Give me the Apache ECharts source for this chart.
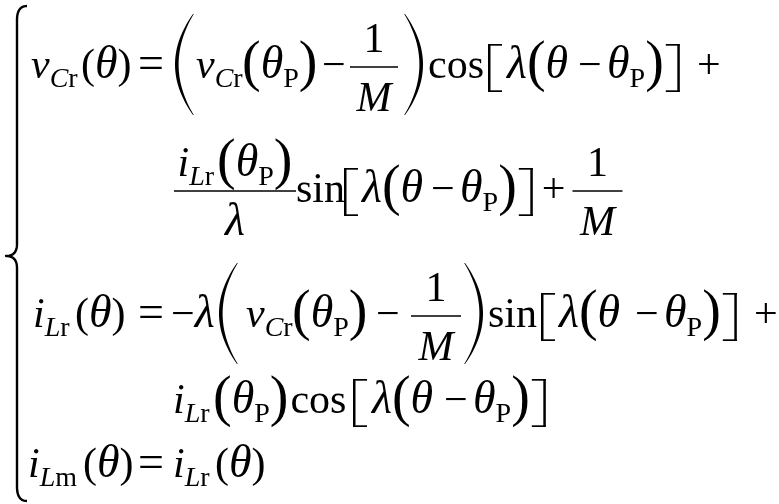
<!DOCTYPE html>
<html><head><meta charset="utf-8">
<script src="https://cdn.jsdelivr.net/npm/echarts@6/dist/echarts.min.js"></script>
<style>html,body{margin:0;padding:0;background:#fff}#c{width:779px;height:504px}</style>
</head><body><div id="c"></div>
<script>
// ---- text pieces of the system of equations ----
const vCr    = [['i','v'], ['s', [['i','C'], ['n','r']]]];
const iLr    = [['i','i'], ['s', [['i','L'], ['n','r']]]];
const iLm    = [['i','i'], ['s', [['i','L'], ['n','m']]]];
const thP    = [['g','θ'], ['s', [['n','P']]]];
const argTh  = [['n','('], ['g','θ'], ['n',')']];
const parThP = [['mp','('], ...thP, ['mp',')']];
const oneOverM = [['n','1']];
const denM     = [['i','M']];
const denLam   = [['g','λ']];

// ---- typography ----
const FAMILY = 'Liberation Serif';
const S = 42, GS = 46, OS = 46, SUB = 28, SUBDY = 9, MIDP = 56, MIDDY = 2;
const cv = document.createElement('canvas').getContext('2d');
function fontStr(size, it){ return (it ? 'italic ' : '') + size + 'px "' + FAMILY + '"'; }
function tw(s, size, it){ cv.font = fontStr(size, it); return cv.measureText(s).width; }
const offCache = {};
function midOff(size){
  if (offCache[size] == null) {
    cv.font = fontStr(size, false); cv.textBaseline = 'middle';
    const m = cv.measureText('x');
    let d = m.actualBoundingBoxDescent;
    if (!(d > 0)) d = 0.32 * size;
    cv.textBaseline = 'alphabetic';
    offCache[size] = d;
  }
  return offCache[size];
}
const els = [];
function txt(x, b, s, size, it){
  els.push({type:'text', x:x, y:b - midOff(size), silent:true,
    style:{text:s, fontFamily:FAMILY, fontSize:size, fontStyle:it ? 'italic' : 'normal', fill:'#000',
      align:'left', verticalAlign:'middle'}});
}
function paren(x, top, bot, w, left){
  const n = 40, t = 2.8, outer = [], inner = [];
  for (let k = 0; k <= n; k++) {
    const s = k / n, u = 2 * s - 1;
    const xo = w * u * u;
    const xi = xo + t * (1 - u * u) + 0.8;
    const y = top + s * (bot - top);
    outer.push([left ? x + xo : x + w - xo, y]);
    inner.push([left ? x + xi : x + w - xi, y]);
  }
  els.push({type:'polygon', silent:true, shape:{points: outer.concat(inner.reverse())}, style:{fill:'#000'}});
}
function bracket(x, top, bot, w, left){
  const vx = left ? x : x + w - 2.5;
  els.push({type:'rect', silent:true, shape:{x:vx, y:top, width:2.5, height:bot-top}, style:{fill:'#000'}});
  els.push({type:'rect', silent:true, shape:{x:x, y:top, width:w, height:1.7}, style:{fill:'#000'}});
  els.push({type:'rect', silent:true, shape:{x:x, y:bot-1.7, width:w, height:1.7}, style:{fill:'#000'}});
}
const BAR = 11, NUM = 15, DEN = 44;
function flow(x, b, items, draw){
  for (const it of items) {
    const k = it[0];
    if (k === 'i' || k === 'n') {
      if (draw) txt(x, b, it[1], S, k === 'i');
      x += tw(it[1], S, k === 'i');
    } else if (k === 'o') {
      if (draw) txt(x, b, it[1], OS, false);
      x += tw(it[1], OS, false);
    } else if (k === 'g') {
      if (typeof it[1] === 'number') { x += it[1]; continue; }
      if (draw) txt(x, b, it[1], GS, true);
      x += tw(it[1], GS, true);
    } else if (k === 's') {
      for (const p of it[1]) {
        if (draw) txt(x, b + SUBDY, p[1], SUB, p[0] === 'i');
        x += tw(p[1], SUB, p[0] === 'i');
      }
    } else if (k === 'x') { x = it[1]; }
    else if (k === 'mp') {
      if (draw) txt(x, b + MIDDY, it[1], MIDP, false);
      x += tw(it[1], MIDP, false);
    } else if (k === 'LP' || k === 'RP') {
      if (draw) paren(x, b - it[1], b + it[2], it[3], k === 'LP');
      x += it[3];
    } else if (k === 'LB' || k === 'RB') {
      if (draw) bracket(x, b - it[1], b + it[2], it[3], k === 'LB');
      x += it[3];
    } else if (k === 'f') {
      const nw = flow(0, 0, it[1], false), dw = flow(0, 0, it[2], false);
      const W = it[3];
      if (draw) {
        const by = b - BAR;
        els.push({type:'rect', silent:true, shape:{x:x, y:by - 0.85, width:W, height:1.7}, style:{fill:'#000'}});
        flow(x + (W - nw) / 2, by - NUM, it[1], true);
        flow(x + (W - dw) / 2, by + DEN, it[2], true);
      }
      x += W;
    }
  }
  return x;
}

// ---- layout of the five rows ----
const B1 = 78, B2 = 202, B3 = 327, B4 = 413, B5 = 477;
const BIG = ['LP', 64, 37, 18], BIGR = ['RP', 64, 37, 18];
const LBk = ['LB', 34, 14, 14], RBk = ['RB', 34, 14, 14];

// row 1
flow(0, B1, [['x',31], ...vCr, ['x',81], ...argTh, ['x',138], ['o','='],
  ['x',175], BIG, ['x',196], ...vCr, ['x',242], ...parThP, ['x',322], ['n','−'],
  ['x',350], ['f', oneOverM, denM, 48], ['x',405], BIGR, ['x',428], ['n','cos'],
  ['x',488], LBk, ['x',507], ['g','λ'], ['mp','('], ['g','θ'], ['x',578], ['n','−'],
  ['x',607], ...thP, ['mp',')'], ['g',2], RBk, ['x',697], ['n','+']], true);

// row 2
flow(0, B2, [['x',174], ['f', [...iLr, ['g',3], ...parThP], denLam, 122],
  ['x',296], ['n','sin'], ['x',344], LBk, ['x',362], ['g','λ'], ['mp','('], ['g','θ'], ['x',431], ['n','−'],
  ['x',460], ...thP, ['mp',')'], ['g',2], RBk, ['g',9], ['n','+'],
  ['g',7], ['f', oneOverM, denM, 50]], true);

// row 3
flow(0, B3, [['x',33], ...iLr, ['x',75], ...argTh, ['x',138], ['o','='],
  ['x',171], ['n','−'], ['g','λ'], ['x',219], BIG, ['x',246], ...vCr, ['x',292], ...parThP,
  ['x',376], ['n','−'], ['x',411], ['f', oneOverM, denM, 50], ['x',465], BIGR, ['x',488], ['n','sin'],
  ['x',541], LBk, ['x',559], ['g','λ'], ['mp','('], ['g','θ'], ['x',635], ['n','−'],
  ['x',664], ...thP, ['mp',')'], ['g',2], RBk, ['x',754], ['n','+']], true);

// row 4
flow(0, B4, [['x',173], ...iLr, ['x',213], ...parThP, ['g',2], ['n','cos'],
  ['x',353], LBk, ['x',372], ['g','λ'], ['mp','('], ['g','θ'], ['x',444], ['n','−'],
  ['x',473], ...thP, ['mp',')'], ['g',2], RBk], true);

// row 5
flow(0, B5, [['x',28], ...iLm, ['x',83], ...argTh, ['x',138], ['o','='],
  ['x',173], ...iLr, ['x',215], ...argTh], true);

// left brace
(function(){
  const xs = 17, xe = 27, xt = 6, yt = 6, yb = 501, ym = 256, pts = [];
  function quad(p0, c, p1){ for (let k = 0; k <= 12; k++){ const t = k/12, a=(1-t)*(1-t), bb=2*(1-t)*t, cc=t*t;
    pts.push([a*p0[0]+bb*c[0]+cc*p1[0], a*p0[1]+bb*c[1]+cc*p1[1]]); } }
  quad([xe, yt], [xs, yt], [xs, yt + 14]);
  pts.push([xs, ym - 12]);
  quad([xs, ym - 12], [xs, ym], [xt, ym]);
  quad([xt, ym], [xs, ym], [xs, ym + 12]);
  pts.push([xs, yb - 14]);
  quad([xs, yb - 14], [xs, yb], [xe, yb]);
  els.push({type:'polyline', silent:true, shape:{points:pts}, style:{stroke:'#000', lineWidth:2.4, fill:null, lineJoin:'round'}});
})();

const chart = echarts.init(document.getElementById('c'), null, {renderer:'canvas'});
chart.setOption({animation:false, backgroundColor:'#fff', graphic:{elements:els}});
</script></body></html>
